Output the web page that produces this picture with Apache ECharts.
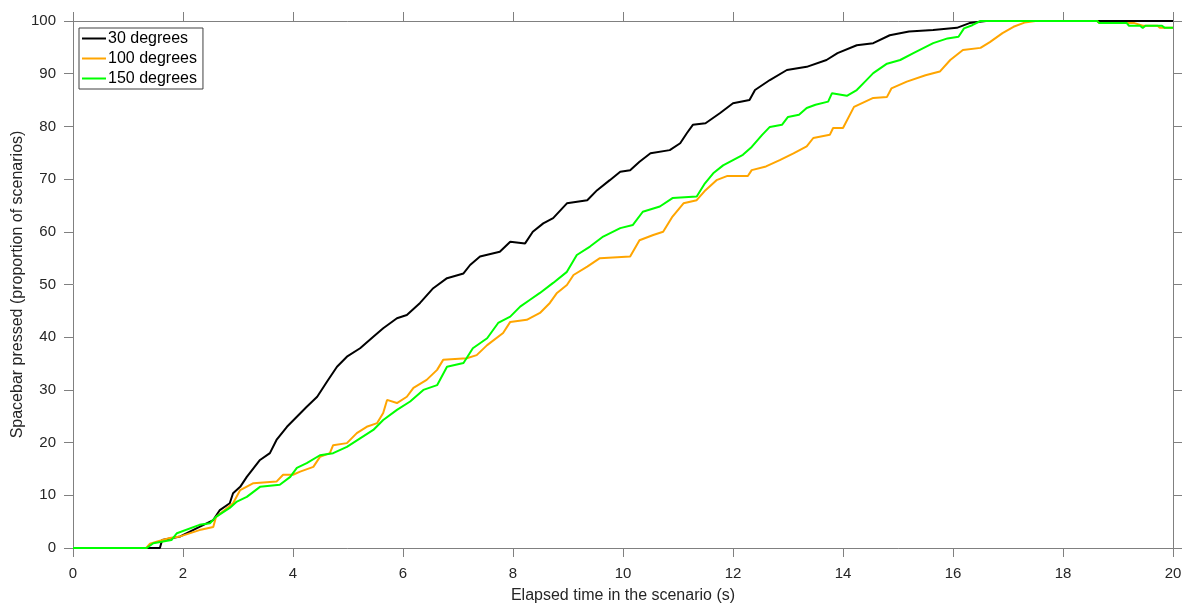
<!DOCTYPE html>
<html>
<head>
<meta charset="utf-8">
<script src="https://cdn.jsdelivr.net/npm/echarts@6/dist/echarts.min.js"></script>
<style>html,body{margin:0;padding:0;background:#fff}#c{width:1183px;height:605px}</style>
</head>
<body>
<div id="c"></div>
<script>
var seriesNames = ['30 degrees', '100 degrees', '150 degrees'];
var xTicks = [0, 2, 4, 6, 8, 10, 12, 14, 16, 18, 20];
var yTicks = [0, 10, 20, 30, 40, 50, 60, 70, 80, 90, 100];

var t30 = [0, 1.58, 1.62, 1.95, 2.3, 2.55, 2.67, 2.85, 2.91, 3.04, 3.16, 3.4, 3.58, 3.7, 3.89, 4.07, 4.25, 4.44, 4.62, 4.8, 4.98, 5.22, 5.46, 5.64, 5.89, 6.07, 6.31, 6.55, 6.8, 7.1, 7.22, 7.4, 7.76, 7.95, 8.22, 8.36, 8.55, 8.73, 8.98, 9.35, 9.53, 9.76, 9.95, 10.13, 10.3, 10.5, 10.85, 11.04, 11.16, 11.27, 11.5, 11.76, 12.0, 12.3, 12.4, 12.67, 12.98, 13.34, 13.7, 13.9, 14.25, 14.55, 14.85, 15.2, 15.64, 16.07, 16.3, 16.6, 20];
var v30 = [0, 0, 1.5, 2.2, 4, 5.3, 7.2, 8.5, 10.4, 11.6, 13.5, 16.7, 18, 20.5, 23, 24.9, 26.8, 28.7, 31.6, 34.4, 36.3, 37.9, 40.1, 41.7, 43.6, 44.2, 46.5, 49.3, 51.2, 52.1, 53.7, 55.3, 56.2, 58.1, 57.8, 60, 61.6, 62.6, 65.4, 66, 67.9, 69.8, 71.4, 71.7, 73.3, 74.9, 75.5, 76.8, 78.7, 80.3, 80.6, 82.5, 84.4, 85, 86.9, 88.8, 90.7, 91.3, 92.6, 93.9, 95.4, 95.8, 97.3, 98, 98.3, 98.7, 99.6, 100, 100];

var t100 = [0, 1.33, 1.4, 1.52, 1.76, 1.95, 2.3, 2.55, 2.6, 2.91, 3.04, 3.28, 3.7, 3.82, 4.0, 4.13, 4.37, 4.49, 4.67, 4.73, 4.98, 5.16, 5.34, 5.53, 5.64, 5.71, 5.89, 6.07, 6.19, 6.43, 6.62, 6.73, 7.16, 7.34, 7.53, 7.82, 7.95, 8.25, 8.49, 8.67, 8.8, 8.98, 9.1, 9.35, 9.58, 10.13, 10.3, 10.55, 10.73, 10.9, 11.1, 11.34, 11.5, 11.7, 11.9, 12.27, 12.34, 12.6, 12.85, 13.1, 13.34, 13.46, 13.76, 13.82, 14.0, 14.2, 14.55, 14.8, 14.88, 15.16, 15.5, 15.76, 15.95, 16.18, 16.5, 16.67, 16.9, 17.1, 17.3, 17.5, 18.62, 18.66, 19.3, 19.45, 19.72, 19.76, 20];
var v100 = [0, 0, 0.8, 1.2, 1.9, 2.2, 3.4, 4, 5.9, 8.5, 11, 12.3, 12.6, 13.9, 13.9, 14.5, 15.4, 17.3, 18, 19.5, 19.9, 21.8, 23, 23.7, 25.6, 28.1, 27.5, 28.7, 30.4, 31.9, 33.8, 35.7, 36, 36.6, 38.5, 40.8, 42.9, 43.3, 44.6, 46.5, 48.4, 49.9, 51.8, 53.4, 55, 55.3, 58.4, 59.4, 60, 62.9, 65.4, 66, 67.9, 69.8, 70.6, 70.6, 71.7, 72.4, 73.6, 74.9, 76.2, 77.8, 78.4, 79.7, 79.7, 83.7, 85.4, 85.6, 87.2, 88.5, 89.7, 90.4, 92.6, 94.5, 94.9, 96, 97.7, 98.9, 99.7, 100, 100, 99.6, 99.6, 99.1, 99.1, 98.7, 98.7];

var t150 = [0, 1.34, 1.46, 1.79, 1.89, 2.3, 2.49, 2.6, 2.85, 2.98, 3.16, 3.4, 3.76, 3.95, 4.07, 4.25, 4.49, 4.73, 4.98, 5.22, 5.46, 5.64, 5.89, 6.13, 6.37, 6.62, 6.8, 7.1, 7.27, 7.53, 7.73, 7.95, 8.13, 8.31, 8.49, 8.73, 8.98, 9.16, 9.4, 9.64, 9.95, 10.18, 10.36, 10.67, 10.9, 11.34, 11.49, 11.64, 11.82, 12.0, 12.18, 12.34, 12.53, 12.67, 12.89, 13.0, 13.2, 13.34, 13.5, 13.73, 13.8, 14.07, 14.25, 14.4, 14.55, 14.8, 15.04, 15.28, 15.64, 15.9, 16.1, 16.2, 16.35, 16.5, 18.62, 18.66, 19.16, 19.2, 19.4, 19.45, 19.5, 19.8, 19.85, 20];
var v150 = [0, 0, 0.9, 1.5, 2.8, 4.4, 4.7, 5.9, 7.6, 8.8, 9.7, 11.6, 12, 13.5, 15.2, 16.1, 17.6, 18, 19.2, 20.8, 22.4, 24.3, 26.2, 27.8, 30, 30.9, 34.4, 35.1, 37.9, 39.8, 42.7, 43.9, 45.8, 47.1, 48.4, 50.3, 52.4, 55.6, 57.2, 59.1, 60.7, 61.3, 63.8, 64.8, 66.4, 66.7, 69.2, 71.1, 72.6, 73.6, 74.6, 76.1, 78.4, 79.9, 80.3, 81.8, 82.2, 83.5, 84.1, 84.7, 86.3, 85.8, 86.9, 88.5, 90.1, 91.9, 92.6, 93.9, 95.8, 96.7, 97, 98.6, 99.2, 100, 100, 99.6, 99.6, 99.1, 99.1, 98.7, 99.1, 99.1, 98.7, 98.7];

var seriesColors = ['#000000', '#FFA500', '#00FF00'];

function pairs(t, v) { return t.map(function (x, i) { return [x, v[i]]; }); }

var font = 'Liberation Sans, Arial, Helvetica, sans-serif';
var axisColor = '#808080';
var textColor = '#262626';

var chart = echarts.init(document.getElementById('c'), null, { renderer: 'canvas' });
var xBase = {
  type: 'value', min: xTicks[0], max: xTicks[xTicks.length - 1], interval: 2,
  axisLine: { show: true, onZero: false, lineStyle: { color: axisColor, width: 1 } },
  axisTick: { show: true, inside: false, length: 9, lineStyle: { color: axisColor } },
  splitLine: { show: false }
};
var yBase = {
  type: 'value', min: yTicks[0], max: yTicks[yTicks.length - 1], interval: 10,
  axisLine: { show: true, onZero: false, lineStyle: { color: axisColor, width: 1 } },
  axisTick: { show: true, inside: false, length: 9, lineStyle: { color: axisColor } },
  splitLine: { show: false }
};
var option = {
  backgroundColor: '#ffffff',
  animation: false,
  grid: { left: 73, right: 10, top: 21, bottom: 57, containLabel: false, outerBoundsMode: 'none' },
  legend: {
    left: 79, top: 28, orient: 'vertical',
    data: seriesNames.map(function (n) { return { name: n, icon: 'rect' }; }),
    itemWidth: 24, itemHeight: 2, itemGap: 1,
    padding: [1, 6, 1, 3],
    borderColor: '#404040', borderWidth: 1, backgroundColor: '#ffffff',
    textStyle: { fontFamily: font, fontSize: 16, lineHeight: 19, color: '#000000', padding: [0, 0, 0, -3] }
  },
  xAxis: [
    Object.assign({}, xBase, {
      position: 'bottom',
      name: 'Elapsed time in the scenario (s)', nameLocation: 'middle', nameGap: 40, nameMoveOverlap: false,
      nameTextStyle: { fontFamily: font, fontSize: 16, color: textColor },
      axisLabel: { show: true, margin: 18, fontFamily: font, fontSize: 15, color: textColor }
    }),
    Object.assign({}, xBase, { position: 'top', axisLabel: { show: false } })
  ],
  yAxis: [
    Object.assign({}, yBase, {
      position: 'left',
      name: 'Spacebar pressed (proportion of scenarios)', nameLocation: 'middle', nameGap: 47, nameRotate: 90, nameMoveOverlap: false,
      nameTextStyle: { fontFamily: font, fontSize: 16, color: textColor },
      axisLabel: { show: true, margin: 17, fontFamily: font, fontSize: 15, color: textColor }
    }),
    Object.assign({}, yBase, { position: 'right', axisLabel: { show: false } })
  ],
  series: [
    { name: seriesNames[0], type: 'line', data: pairs(t30, v30), showSymbol: false, symbol: 'none', lineStyle: { color: seriesColors[0], width: 2 }, itemStyle: { color: seriesColors[0] }, z: 2 },
    { name: seriesNames[1], type: 'line', data: pairs(t100, v100), showSymbol: false, symbol: 'none', lineStyle: { color: seriesColors[1], width: 2 }, itemStyle: { color: seriesColors[1] }, z: 3 },
    { name: seriesNames[2], type: 'line', data: pairs(t150, v150), showSymbol: false, symbol: 'none', lineStyle: { color: seriesColors[2], width: 2 }, itemStyle: { color: seriesColors[2] }, z: 4 }
  ]
};
chart.setOption(option);
</script>
</body>
</html>
